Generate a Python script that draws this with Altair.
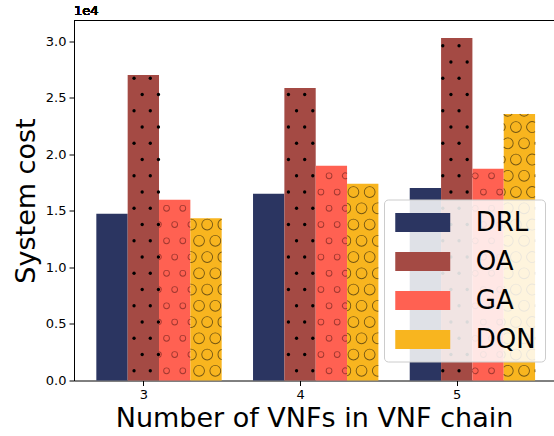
import altair as alt
import numpy as np
import pandas as pd

# System cost for each VNF-chain length and placement method
chains = [3, 4, 5]
methods = ["DRL", "OA", "GA", "DQN"]
cost_drl = [14740, 16510, 17030]
cost_oa = [27030, 25880, 30300]
cost_ga = [15980, 19000, 18720]
cost_dqn = [14360, 17400, 23580]

palette = ["#2b3561", "#a44a44", "#ff6152", "#f8b51f"]
hatches = {"OA": "dots", "GA": "small", "DQN": "large"}
# hatch glyph radius in pixels
hatch_radius = {"dots": 1.7, "small": 3.35, "large": 5.85}
ring_w = 0.9

bar_w = 0.2
offsets = {"DRL": -0.2, "OA": 0.0, "GA": 0.2, "DQN": 0.4}
series = {"DRL": cost_drl, "OA": cost_oa, "GA": cost_ga, "DQN": cost_dqn}

rows = []
for m in methods:
    for c, v in zip(chains, series[m]):
        centre = c + offsets[m]
        rows.append({"chain": c, "method": m, "cost": v,
                     "left": centre - bar_w / 2, "right": centre + bar_w / 2})
bars = pd.DataFrame(rows)

# scales
x_dom = [2.5575, 5.6207]
y_dom = [0, 31840]
W, H = 480, 360
px_x = W / (x_dom[1] - x_dom[0])
px_y = H / (y_dom[1] - y_dom[0])

# hatch grid (a square lattice with alternating rows shifted by half a cell)
cell_px = 16.25
dx = cell_px / px_x
dy = cell_px / px_y
x_phase, y_phase = 2.9407, 26730

theta = np.linspace(0, 2 * np.pi, 721)[:-1]
step = theta[1] - theta[0]


def visible_arcs(cx, cy, r, left, right, top):
    """Angular runs of a ring (Vega angles: 0 at top, clockwise) lying inside a bar."""
    rr = r - ring_w / 2
    xs_ = cx + rr * np.sin(theta) / px_x
    ys_ = cy + rr * np.cos(theta) / px_y
    inside = (xs_ >= left) & (xs_ <= right) & (ys_ >= 0) & (ys_ <= top)
    if inside.all():
        return [(0.0, 2 * np.pi)]
    if not inside.any():
        return []
    start = int(np.argmin(inside))  # an index that is outside
    order = np.roll(np.arange(len(theta)), -start)
    runs, cur = [], None
    for i in order:
        if inside[i]:
            if cur is None:
                cur = [i, i]
            else:
                cur[1] = i
        elif cur is not None:
            runs.append(cur)
            cur = None
    if cur is not None:
        runs.append(cur)
    out = []
    for a, b in runs:
        t0 = theta[a] - step / 2
        t1 = theta[a] + ((b - a) % len(theta)) * step + step / 2
        out.append((t0, t1))
    return out


dot_rows, ring_rows = [], []
for _, b in bars.iterrows():
    kind = hatches.get(b["method"])
    if kind is None:
        continue
    r = hatch_radius[kind]
    for k in range(-5, 40):
        y = y_phase - k * dy
        if y < -r / px_y or y > b["cost"] + r / px_y:
            continue
        x0 = x_phase - (dx / 2 if k % 2 else 0)
        n_lo = int(np.floor((b["left"] - x0) / dx)) - 1
        for n in range(n_lo, n_lo + 6):
            x = x0 + n * dx
            if kind == "dots":
                if b["left"] <= x <= b["right"] and 0 < y <= b["cost"]:
                    dot_rows.append({"x": x, "y": y})
                continue
            for t0, t1 in visible_arcs(x, y, r, b["left"], b["right"], b["cost"]):
                ring_rows.append({"kind": kind, "x": x, "y": y, "t0": t0, "t1": t1})
dots_df = pd.DataFrame(dot_rows)
rings_df = pd.DataFrame(ring_rows)

font = "DejaVu Sans"
xs = alt.Scale(domain=x_dom, nice=False, zero=False, padding=0)
ys = alt.Scale(domain=y_dom, nice=False, zero=True, padding=0)

bar_layer = alt.Chart(bars).mark_bar().encode(
    x=alt.X("left:Q", scale=xs,
            axis=alt.Axis(values=chains, format="d", title="Number of VNFs in VNF chain",
                          grid=False, tickSize=5, labelPadding=3, labelFontSize=13,
                          titleFontSize=27, titleFontWeight="normal", titlePadding=4,
                          domainColor="black", tickColor="black", labelColor="black",
                          titleColor="black", labelFont=font, titleFont=font)),
    x2="right:Q",
    y=alt.Y("cost:Q", scale=ys,
            axis=alt.Axis(values=list(range(0, 30001, 5000)),
                          labelExpr="format(datum.value / 10000, '.1f')",
                          title="System cost", grid=False, tickSize=5, labelPadding=3,
                          labelFontSize=13, titleFontSize=27, titleFontWeight="normal",
                          titlePadding=5, domainColor="black", tickColor="black",
                          labelColor="black", titleColor="black",
                          labelFont=font, titleFont=font)),
    y2=alt.datum(0),
    color=alt.Color("method:N",
                    scale=alt.Scale(domain=methods, range=palette),
                    legend=alt.Legend(orient="none", legendX=310, legendY=179, title=None,
                                      symbolType="M-2,-0.69H2V0.69H-2Z", symbolSize=756,
                                      symbolStrokeWidth=0, symbolOpacity=1,
                                      symbolOffset=15.75, labelOffset=39,
                                      labelFontSize=26, labelFont=font, labelColor="black",
                                      rowPadding=12, padding=9,
                                      fillColor="rgba(255,255,255,0.85)",
                                      strokeColor="#cccccc", cornerRadius=4)),
)

dots = alt.Chart(dots_df).mark_point(
    filled=True, color="black", size=11, opacity=1
).encode(x=alt.X("x:Q", scale=xs), y=alt.Y("y:Q", scale=ys))


def ring_layer(kind, colour, opacity):
    r = hatch_radius[kind]
    return alt.Chart(rings_df).transform_filter(alt.datum.kind == kind).mark_arc(
        color=colour, opacity=opacity
    ).encode(
        x=alt.X("x:Q", scale=xs),
        y=alt.Y("y:Q", scale=ys),
        theta=alt.Theta("t0:Q", scale=None, stack=False),
        theta2="t1:Q",
        radius=alt.value(r),
        radius2=alt.value(r - ring_w),
    )


small = ring_layer("small", "#8a2e28", 0.8)
large = ring_layer("large", "#5a4412", 0.85)

top_spine = alt.Chart(bars).mark_rule(color="black", strokeWidth=1).encode(
    y=alt.value(0), x=alt.value(0), x2=alt.value(W)
)

exponent = alt.Chart(bars).mark_text(
    text="1e4", align="left", baseline="bottom", fontSize=13, font=font, color="black"
).encode(x=alt.value(0), y=alt.value(-3))

chart = alt.layer(bar_layer, dots, small, large, top_spine, exponent).properties(
    width=W, height=H,
    autosize=alt.AutoSizeParams(type="none"),
    padding={"left": 74, "top": 20.5, "right": 0, "bottom": 55.5},
).configure_view(stroke=None)

chart.save("out.html", embed_options={"renderer": "svg", "actions": False})
